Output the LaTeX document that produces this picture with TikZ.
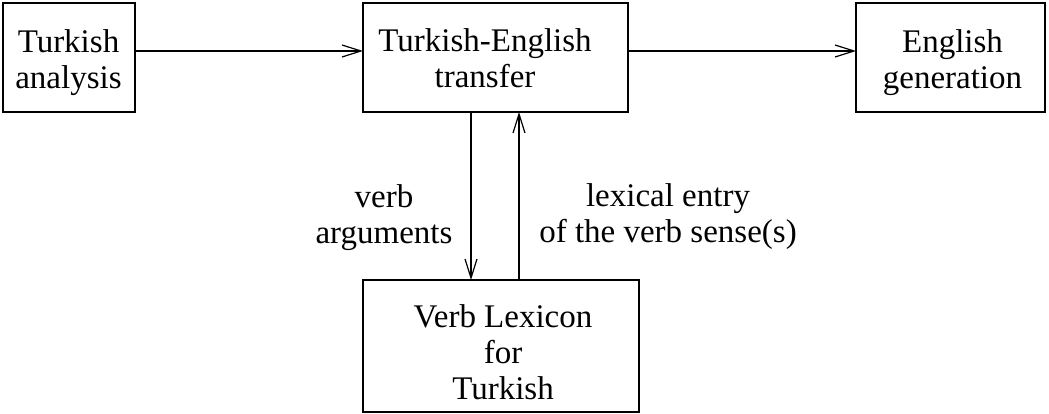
\documentclass[tikz,border=0pt]{standalone}
\usepackage{fontspec}
\setmainfont{Liberation Serif}
\usetikzlibrary{arrows.meta}
\begin{document}
\begin{tikzpicture}[x=1pt,y=-1pt,
  box/.style={draw,line width=1.2pt,inner sep=0pt,outer sep=0pt},
  txt/.style={font=\fontsize{33}{36}\selectfont,align=center,inner sep=0pt},
  arr/.style={line width=1.2pt,-{Straight Barb[length=19pt,width=12pt]}}]
\useasboundingbox (0,0) rectangle (1049,414);
\node[box,minimum width=132pt,minimum height=109pt,
  label={[txt,yshift=-5pt,xshift=-0.5pt]center:Turkish\\analysis}] (A) at (69,57.5) {};
\node[box,minimum width=265pt,minimum height=109pt,
  label={[txt,yshift=-1pt,xshift=-10.5pt]center:Turkish-English\\transfer}] (B) at (495.5,57.5) {};
\node[box,minimum width=189pt,minimum height=109pt,
  label={[txt,yshift=-5pt,xshift=2pt]center:English\\generation}] (C) at (950.5,57.5) {};
\node[box,minimum width=276pt,minimum height=132pt,
  label={[txt,yshift=-6pt,xshift=2pt]center:Verb Lexicon\\for\\Turkish}] (D) at (501,346) {};
\node[txt] (L1) at (384,217.3) {verb\\arguments};
\node[txt] (L2) at (668,216.7) {lexical entry\\of the verb sense(s)};
\draw[arr] ([yshift=6.5pt]A.east) -- ([yshift=6.5pt]B.west);
\draw[arr] ([yshift=6.5pt]B.east) -- ([yshift=6.5pt]C.west);
\draw[arr] ([xshift=-24.5pt]B.south) -- ([xshift=-24.5pt]B.south |- D.north);
\draw[arr] ([xshift=23.5pt]B.south |- D.north) -- ([xshift=23.5pt]B.south);
\end{tikzpicture}
\end{document}
